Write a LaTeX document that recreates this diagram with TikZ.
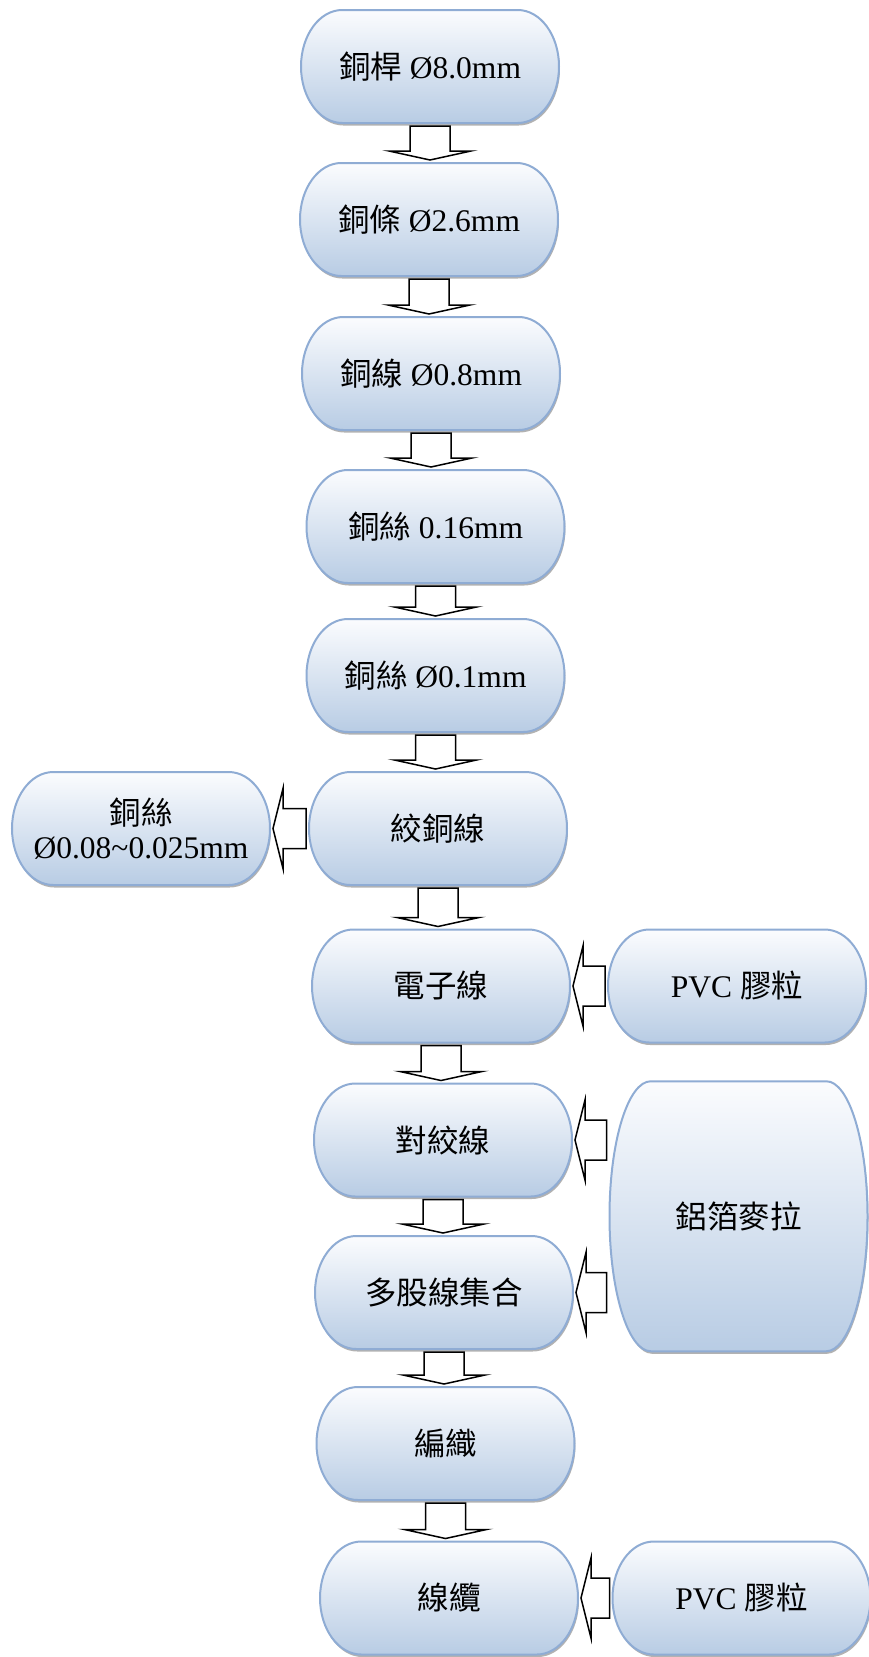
\documentclass[tikz,border=0pt]{standalone}
\usepackage{fontspec}
\setmainfont{Liberation Serif}
\newfontfamily\cjk{Noto Sans CJK TC}
\usetikzlibrary{positioning,calc}

\definecolor{boxline}{RGB}{143,172,212}
\definecolor{boxtop}{RGB}{251,252,254}
\definecolor{boxbottom}{RGB}{184,204,228}

% outline of a terminator box, to be used inside a let
\newcommand\termpath[2]{({\x1+3pt+\n1+(#1)},{\y2-3pt+(#2)}) -- ({\x2-3pt-\n1+(#1)},{\y2-3pt+(#2)})
  arc[start angle=90, end angle=-90, x radius=\n1*1pt, y radius=\n2*1pt]
  -- ({\x1+3pt+\n1+(#1)},{\y1+3pt+(#2)})
  arc[start angle=270, end angle=90, x radius=\n1*1pt, y radius=\n2*1pt] -- cycle}
\newcommand\termshape{%
  \path[fill=black!30] let \p1=(path picture bounding box.south west), \p2=(path picture bounding box.north east),
    \n1={0.16*(\x2-\x1-6pt)}, \n2={(\y2-\y1)/2-3pt} in \termpath{1pt}{-2.5pt};
  \path[top color=boxtop, bottom color=boxbottom, draw=boxline, line width=2pt]
    let \p1=(path picture bounding box.south west), \p2=(path picture bounding box.north east),
    \n1={0.16*(\x2-\x1-6pt)}, \n2={(\y2-\y1)/2-3pt} in \termpath{0pt}{0pt};}

% block arrows between two boxes
\newcommand\flowdown[2]{%
  \draw[blockarrow] let \p1=(#1.south), \p2=(#2.north) in
    ({\x1-20pt},\y1) -- ({\x1+20pt},\y1) -- ({\x1+20pt},{\y2+9pt}) -- ({\x1+41pt},{\y2+9pt})
    -- (\x1,\y2) -- ({\x1-41pt},{\y2+9pt}) -- ({\x1-20pt},{\y2+9pt}) -- cycle;}
\newcommand\flowleft[2]{%
  \draw[blockarrow] let \p1=(#1.west), \p2=(#2.east) in
    (\x1,{\y2+20pt}) -- ({\x2+10pt},{\y2+20pt}) -- ({\x2+10pt},{\y2+40pt}) -- (\x2,\y2)
    -- ({\x2+10pt},{\y2-40pt}) -- ({\x2+10pt},{\y2-20pt}) -- (\x1,{\y2-20pt}) -- cycle;}

\tikzset{
  stage/.style={rectangle, inner sep=0pt, outer sep=0pt, minimum width=264pt, minimum height=119pt,
    align=center, font=\fontsize{31.5}{34}\selectfont, path picture={\termshape}},
  blockarrow/.style={draw=black, fill=white, line width=1.5pt},
}

\begin{document}
\begin{tikzpicture}[x=1pt, y=-1pt]
    \useasboundingbox (0,0) rectangle (869,1657);

    \node[stage] (rod) at (430,66.5) {{\cjk 銅桿} Ø8.0mm};
    \node[stage] (bar) [below=34pt of rod, xshift=-1pt] {{\cjk 銅條} Ø2.6mm};
    \node[stage] (wire) [below=35pt of bar, xshift=2pt] {{\cjk 銅線} Ø0.8mm};
    \node[stage] (fine) [below=34pt of wire, xshift=4.5pt] {{\cjk 銅絲} 0.16mm};
    \node[stage] (thin) [below=30pt of fine] {{\cjk 銅絲} Ø0.1mm};
    \node[stage] (strand) [below=34pt of thin, xshift=2.5pt] {\cjk 絞銅線};
    \node[stage] (elec) [below=38.5pt of strand, xshift=3pt] {\cjk 電子線};
    \node[stage] (pair) [below=35pt of elec, xshift=2pt] {\cjk 對絞線};
    \node[stage] (bundle) [below=33.5pt of pair, xshift=1pt] {\cjk 多股線集合};
    \node[stage] (braid) [below=32pt of bundle, xshift=1.5pt] {\cjk 編織};
    \node[stage] (cable) [below=35.5pt of braid, xshift=3.5pt] {\cjk 線纜};

    \node[stage] (ultra) [left=33pt of strand] {{\cjk 銅絲}\\Ø0.08\textasciitilde0.025mm};
    \node[stage] (pvcA) [right=32pt of elec] {PVC {\cjk 膠粒}};
    \node[stage, minimum height=276pt, anchor=west] (foil) at ($(pair.east)!0.5!(bundle.east)+(31pt,0)$) {\cjk 鋁箔麥拉};
    \node[stage] (pvcB) [right=28.5pt of cable] {PVC {\cjk 膠粒}};

    \foreach \a/\b in {rod/bar, bar/wire, wire/fine, fine/thin, thin/strand, strand/elec,
        elec/pair, pair/bundle, bundle/braid, braid/cable}
        \flowdown{\a}{\b};
    \foreach \a/\b in {strand/ultra, pvcA/elec, foil/pair, foil/bundle, pvcB/cable}
        \flowleft{\a}{\b};
\end{tikzpicture}
\end{document}
